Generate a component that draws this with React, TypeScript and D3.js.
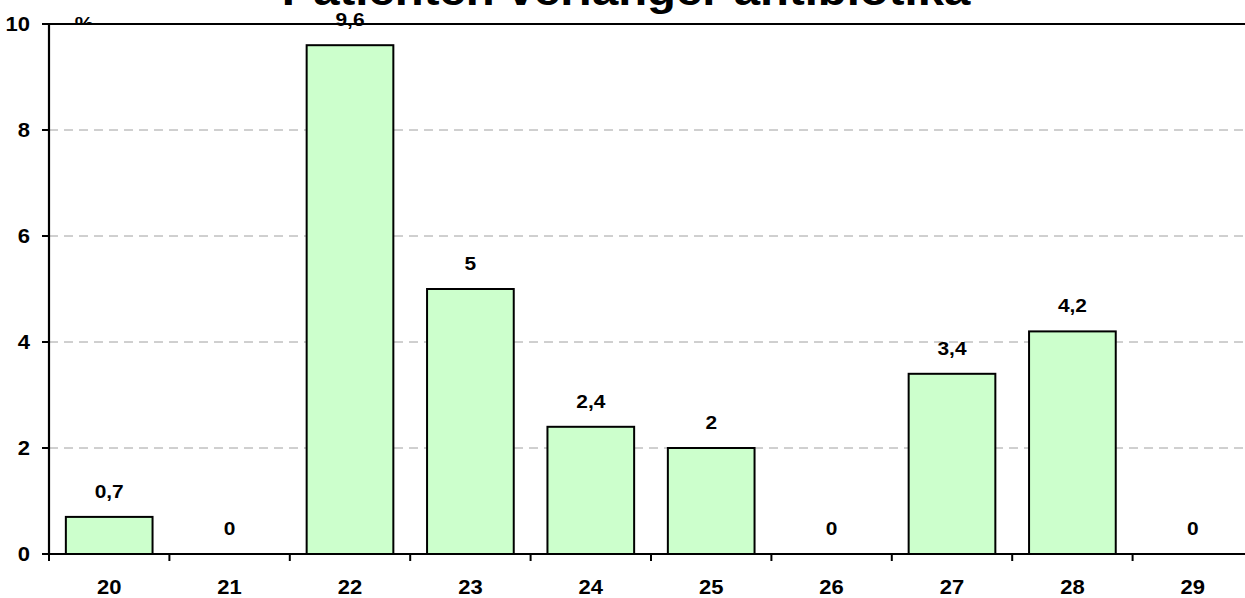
import React from "react";
import * as d3 from "d3";

const categories = ["20", "21", "22", "23", "24", "25", "26", "27", "28", "29"];
const values = [0.7, 0, 9.6, 5, 2.4, 2, 0, 3.4, 4.2, 0];
const valueLabels = ["0,7", "0", "9,6", "5", "2,4", "2", "0", "3,4", "4,2", "0"];
const yTicks = [0, 2, 4, 6, 8, 10];
const title = "Patienten verlanger antibiotika";
const unitLabel = "%";

const W = 1245;
const H = 598;
const left = 49;
const step = 120.4;
const right = left + step * categories.length;
const top = 24;
const bottom = 554;
const SX = 1.1;

export default function App() {
  const x = d3
    .scaleBand<string>()
    .domain(categories)
    .range([left, right])
    .paddingInner(0.28)
    .paddingOuter(0.14);
  const y = d3.scaleLinear().domain([0, 10]).range([bottom, top]);
  const font = "Arial, 'Liberation Sans', sans-serif";
  const boundaries = d3.range(categories.length + 1).map((i) => left + i * x.step());

  const txt = (
    key: string,
    tx: number,
    ty: number,
    s: string,
    size: number,
    anchor: "start" | "middle" | "end" = "middle"
  ) => (
    <text
      key={key}
      transform={`translate(${tx},${ty}) scale(${SX},1)`}
      textAnchor={anchor}
      fontFamily={font}
      fontWeight="bold"
      fontSize={size}
      fill="#000"
    >
      {s}
    </text>
  );

  return (
    <svg
      width={W}
      height={H}
      style={{ position: "absolute", left: 0, top: 0, overflow: "hidden", background: "#fff" }}
    >
      {/* title */}
      {txt("title", 626, 5, title, 43)}
      {/* unit label (partly hidden behind plot area) */}
      {txt("unit", 84, 30, unitLabel, 19)}
      {/* plot area */}
      <rect x={left} y={top} width={right - left} height={bottom - top} fill="#fff" />
      {/* gridlines */}
      {yTicks
        .filter((t) => t > 0 && t < 10)
        .map((t) => (
          <line
            key={"g" + t}
            x1={left}
            x2={right}
            y1={y(t)}
            y2={y(t)}
            stroke="#a0a0a0"
            strokeWidth={1}
            strokeDasharray="9 6"
          />
        ))}
      {/* bars */}
      {values.map((v, i) =>
        v > 0 ? (
          <rect
            key={"b" + i}
            x={x(categories[i])!}
            y={y(v)}
            width={x.bandwidth()}
            height={y(0) - y(v)}
            fill="#CCFFCC"
            stroke="#000"
            strokeWidth={2}
          />
        ) : null
      )}
      {/* top border */}
      <line x1={left} x2={right} y1={top} y2={top} stroke="#000" strokeWidth={2} />
      {/* axes */}
      <line x1={left} x2={left} y1={top} y2={bottom} stroke="#000" strokeWidth={2.2} />
      <line x1={left - 7} x2={right} y1={bottom} y2={bottom} stroke="#000" strokeWidth={2.2} />
      {yTicks.map((t) => (
        <line key={"yt" + t} x1={left - 7} x2={left} y1={y(t)} y2={y(t)} stroke="#000" strokeWidth={2} />
      ))}
      {boundaries.map((bx, i) => (
        <line key={"xt" + i} x1={bx} x2={bx} y1={bottom} y2={bottom + 7} stroke="#000" strokeWidth={2} />
      ))}
      {/* y tick labels */}
      {yTicks.map((t) => txt("yl" + t, 30, y(t) + 7, String(t), 20, "end"))}
      {/* x tick labels */}
      {categories.map((c) => txt("xl" + c, x(c)! + x.bandwidth() / 2, 594, c, 20))}
      {/* value labels */}
      {values.map((v, i) =>
        txt("vl" + i, x(categories[i])! + x.bandwidth() / 2, y(v) - 19, valueLabels[i], 19)
      )}
    </svg>
  );
}
